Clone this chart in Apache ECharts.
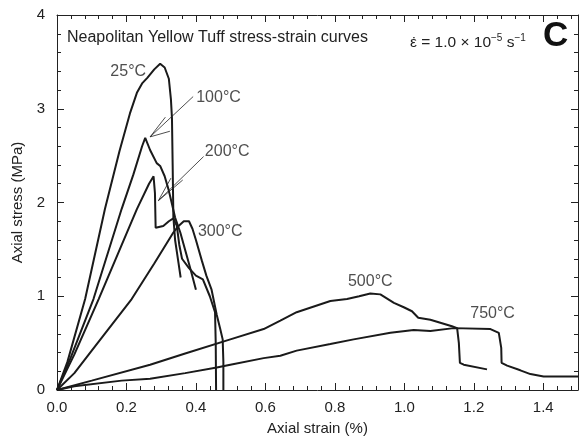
<!DOCTYPE html>
<html>
<head>
<meta charset="utf-8">
<script src="https://cdn.jsdelivr.net/npm/echarts@6/dist/echarts.min.js"></script>
<style>
  html, body { margin: 0; padding: 0; background: #fff; }
  #chart { width: 580px; height: 441px; }
</style>
</head>
<body>
<div id="chart"></div>
<script>
// curves: [strain %, stress MPa]
const curve25 = [[0,0],[0.03,0.3],[0.081,0.97],[0.138,1.93],[0.18,2.55],[0.21,2.95],[0.23,3.17],[0.245,3.27],[0.25,3.25],[0.26,3.33],[0.28,3.42],[0.297,3.48],[0.31,3.44],[0.322,3.32],[0.328,3.1],[0.331,2.9],[0.333,2.4],[0.335,1.85],[0.34,1.6],[0.35,1.35],[0.356,1.2]]
const curve100 = [[0,0],[0.04,0.35],[0.105,0.97],[0.186,1.93],[0.22,2.3],[0.245,2.6],[0.254,2.69],[0.268,2.56],[0.287,2.42],[0.297,2.39],[0.31,2.28],[0.321,2.14],[0.33,2.0],[0.34,1.84],[0.355,1.68],[0.37,1.48],[0.385,1.28],[0.4,1.07]]
const curve200 = [[0,0],[0.05,0.38],[0.12,0.97],[0.23,1.93],[0.265,2.2],[0.278,2.28],[0.282,2.1],[0.284,1.73],[0.306,1.75],[0.322,1.8],[0.335,1.83],[0.345,1.75],[0.352,1.55],[0.36,1.4],[0.38,1.3],[0.4,1.22],[0.42,1.18],[0.44,1.0],[0.455,0.83],[0.457,0.5],[0.458,0]]
const curve300 = [[0,0],[0.05,0.18],[0.1,0.42],[0.215,0.97],[0.28,1.35],[0.335,1.68],[0.35,1.75],[0.365,1.8],[0.38,1.8],[0.39,1.72],[0.4,1.6],[0.417,1.38],[0.43,1.22],[0.445,1.07],[0.46,0.8],[0.47,0.65],[0.477,0.54],[0.479,0.3],[0.479,0]]
const curve500 = [[0,0],[0.1,0.1],[0.268,0.27],[0.369,0.39],[0.499,0.54],[0.595,0.65],[0.643,0.74],[0.69,0.83],[0.787,0.95],[0.835,0.97],[0.87,1.0],[0.902,1.03],[0.931,1.02],[0.97,0.93],[1.0,0.88],[1.022,0.84],[1.04,0.77],[1.075,0.75],[1.137,0.68],[1.152,0.66],[1.157,0.5],[1.16,0.29],[1.171,0.27],[1.238,0.22]]
const curve750 = [[0,0],[0.05,0.04],[0.186,0.1],[0.268,0.12],[0.369,0.18],[0.46,0.24],[0.499,0.27],[0.595,0.34],[0.643,0.365],[0.69,0.42],[0.787,0.49],[0.854,0.54],[0.96,0.61],[1.027,0.64],[1.075,0.63],[1.142,0.66],[1.248,0.65],[1.272,0.61],[1.279,0.45],[1.28,0.29],[1.296,0.26],[1.334,0.21],[1.363,0.17],[1.401,0.145],[1.5,0.145]]

const curveNames = ['25°C', '100°C', '200°C', '300°C', '500°C', '750°C']
const curves = [curve25, curve100, curve200, curve300, curve500, curve750]
// label positions (data units)
const labelPos = [[0.205,3.40],[0.465,3.12],[0.49,2.54],[0.47,1.69],[0.902,1.16],[1.254,0.82]]
// pointer lines from labels to the 100°C and 200°C peaks
const arrows = [
    [[0.392,3.13],[0.268,2.70]], [[0.312,2.91],[0.268,2.70]], [[0.325,2.76],[0.268,2.70]],
    [[0.422,2.49],[0.292,2.02]], [[0.328,2.26],[0.292,2.02]], [[0.362,2.24],[0.292,2.02]]
]

const font = 'Liberation Sans, Arial, sans-serif'
const ink = '#222'
const chart = echarts.init(document.getElementById('chart'))

const axisCommon = {
    type: 'value',
    axisLine: { show: true, onZero: false, lineStyle: { color: ink, width: 1 } },
    axisTick: { show: true, inside: true, length: 7, lineStyle: { color: ink } },
    minorTick: { show: true, splitNumber: 5, length: 4, lineStyle: { color: ink } },
    splitLine: { show: false },
    minorSplitLine: { show: false }
}

const series = curves.map((c, i) => ({
    name: curveNames[i],
    type: 'line',
    data: c,
    showSymbol: false,
    symbol: 'none',
    lineStyle: { color: '#1a1a1a', width: 2 },
    z: 3
}))

series.push({
    type: 'scatter',
    symbolSize: 0,
    data: labelPos.map((p, i) => ({ value: p, name: curveNames[i] })),
    label: {
        show: true, position: 'inside', formatter: '{b}',
        color: ink, fontSize: 16, fontFamily: font
    },
    markLine: {
        silent: true,
        symbol: ['none', 'none'],
        label: { show: false },
        lineStyle: { color: ink, width: 0.8, type: 'solid' },
        data: arrows.map(a => [{ coord: a[0] }, { coord: a[1] }])
    },
    z: 4
})

const option = {
    animation: false,
    backgroundColor: '#fff',
    grid: { left: 57, right: 2, top: 15, bottom: 50 },
    title: [
        { text: 'Neapolitan Yellow Tuff stress-strain curves', left: 62, top: 25,
          textStyle: { fontSize: 16, fontWeight: 'normal', color: ink, fontFamily: font } },
        { text: 'ε = 1.0 × 10{s|−5} s{s|−1}', left: 405, top: 28,
          textStyle: { fontSize: 15.5, fontWeight: 'normal', color: ink, fontFamily: font, lineHeight: 20,
            rich: {
                s: { fontSize: 10, fontFamily: font, color: ink, verticalAlign: 'top', lineHeight: 13 }
            } } },
        { text: '˙', left: 407, top: 32,
          textStyle: { fontSize: 16, fontWeight: 'normal', color: ink, fontFamily: font } },
        { text: 'C', left: 538, top: 14,
          textStyle: { fontSize: 35, fontWeight: 'bold', color: '#111', fontFamily: font } }
    ],
    xAxis: [
        Object.assign({}, axisCommon, {
            min: 0, max: 1.5, interval: 0.2,
            name: 'Axial strain (%)', nameLocation: 'middle', nameGap: 31,
            nameTextStyle: { fontSize: 15, color: ink, fontFamily: font },
            axisLabel: { showMaxLabel: false, margin: 10, fontSize: 15, color: ink, fontFamily: font,
                formatter: v => v.toFixed(1) }
        }),
        Object.assign({}, axisCommon, {
            min: 0, max: 1.5, interval: 0.2, position: 'top',
            axisLabel: { show: false }
        })
    ],
    yAxis: [
        Object.assign({}, axisCommon, {
            min: 0, max: 4, interval: 1,
            name: 'Axial stress (MPa)', nameLocation: 'middle', nameGap: 27,
            nameTextStyle: { fontSize: 15, color: ink, fontFamily: font },
            axisLabel: { margin: 12, fontSize: 15, color: ink, fontFamily: font }
        }),
        Object.assign({}, axisCommon, {
            min: 0, max: 4, interval: 1, position: 'right',
            axisLabel: { show: false }
        })
    ],
    series: series
}

chart.setOption(option)
</script>
</body>
</html>
